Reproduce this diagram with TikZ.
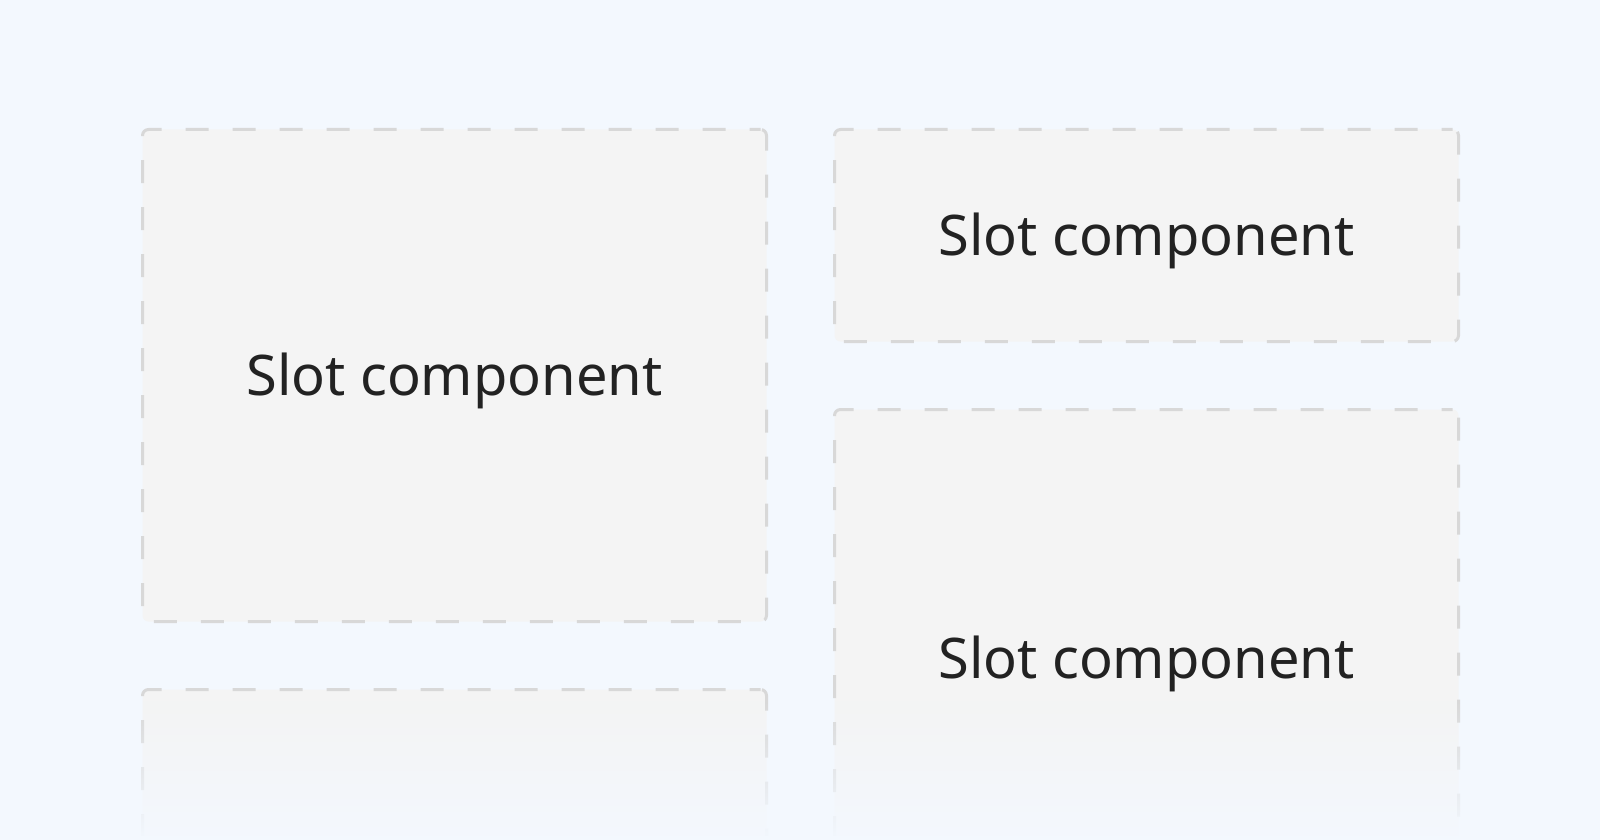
\documentclass[tikz,border=0pt]{standalone}
\usepackage{fontspec}
\setmainfont{Noto Sans}
\usetikzlibrary{fadings}

\definecolor{pagebg}{HTML}{F3F8FE}
\definecolor{slotfill}{HTML}{F4F4F4}
\definecolor{slotline}{HTML}{D8D8D8}
\definecolor{slottext}{HTML}{222222}

\tikzfading[name=fadedown, top color=transparent!100, bottom color=transparent!0]

\tikzset{
  slotbox/.style={draw=slotline, fill=slotfill, line width=3pt,
    dash pattern=on 23pt off 24pt, dash phase=12pt, rounded corners=6pt,
    minimum width=624pt, inner sep=0pt, text=slottext,
    font=\fontsize{56}{60}\selectfont, text height=40pt, text depth=0pt}
}

\begin{document}
\begin{tikzpicture}[x=1pt,y=-1pt]
    \useasboundingbox (0,0) rectangle (1600,840);
    \clip (0,0) rectangle (1600,840);
    \fill[pagebg] (0,0) rectangle (1600,840);

    \node[slotbox, minimum height=492pt] (slotA) at (454.5,375.5) {Slot component};
    \node[slotbox, minimum height=212pt] (slotB) at (1146.5,235.5) {Slot component};
    \node[slotbox, minimum height=497pt] (slotC) at (1146.5,658) {Slot component};
    \node[slotbox, minimum height=492pt] (slotD) at (454.5,935.5) {};

    \fill[pagebg, path fading=fadedown] (0,700) rectangle (1600,840);
    \fill[pagebg] (0,836) rectangle (1600,840);
  \end{tikzpicture}
\end{document}
